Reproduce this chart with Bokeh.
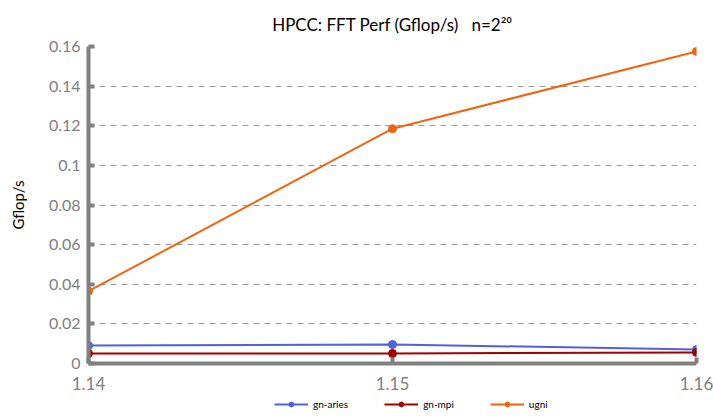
from bokeh.plotting import figure
from bokeh.layouts import column
from bokeh.models import FixedTicker, Legend, LegendItem, Range1d
from bokeh.embed import file_html
from bokeh.resources import INLINE

versions = [1.14, 1.15, 1.16]
x_tick_labels = ["1.14", "1.15", "1.16"]
gn_aries = [0.0091, 0.0096, 0.0071]
gn_mpi = [0.0051, 0.0051, 0.0056]
ugni = [0.0365, 0.1185, 0.1575]
y_ticks = [0, 0.02, 0.04, 0.06, 0.08, 0.1, 0.12, 0.14, 0.16]
y_tick_labels = ["0", "0.02", "0.04", "0.06", "0.08", "0.1", "0.12", "0.14", "0.16"]

series = [("gn-aries", gn_aries, "#5062d8"),
          ("gn-mpi", gn_mpi, "#a00000"),
          ("ugni", ugni, "#f26510")]

FONT = "Lato"
GRAY = "#808080"

p = figure(width=713, height=398, output_backend="svg", toolbar_location=None,
           x_range=Range1d(1.14, 1.16), y_range=Range1d(0, 0.16),
           min_border_left=88, min_border_right=17, min_border_top=46, min_border_bottom=35)

p.title.text = "HPCC: FFT Perf (Gflop/s)\u00a0\u00a0\u00a0n=2\u00b2\u2070"
p.title.align = "center"
p.title.text_font = FONT
p.title.text_font_size = "17px"
p.title.text_font_style = "normal"
p.title.text_color = "#000000"
p.title.standoff = 23

p.outline_line_color = None
p.xgrid.grid_line_color = None
p.ygrid.grid_line_color = "#9a9a9a"
p.ygrid.grid_line_dash = "6 5"
p.ygrid.grid_line_width = 1
p.ygrid.ticker = FixedTicker(ticks=y_ticks[1:])

for ax in (p.xaxis[0], p.yaxis[0]):
    ax.axis_line_color = GRAY
    ax.axis_line_width = 4
    ax.major_tick_line_color = GRAY
    ax.major_tick_line_width = 4
    ax.major_tick_in = 6
    ax.major_tick_out = 0
    ax.minor_tick_line_color = None
    ax.major_label_text_font = FONT
    ax.major_label_text_color = GRAY

p.xaxis.ticker = FixedTicker(ticks=versions)
p.xaxis.major_label_overrides = dict(zip(versions, x_tick_labels))
p.xaxis.major_label_standoff = 13
p.xaxis.major_label_text_font_size = "17px"
p.yaxis.ticker = FixedTicker(ticks=y_ticks)
p.yaxis.major_label_overrides = dict(zip(y_ticks, y_tick_labels))
p.yaxis.major_label_standoff = 8
p.yaxis.major_label_text_font_size = "16px"
p.yaxis.axis_label = "Gflop/s"
p.yaxis.axis_label_text_font = FONT
p.yaxis.axis_label_text_font_size = "15px"
p.yaxis.axis_label_text_font_style = "normal"
p.yaxis.axis_label_text_color = "#000000"
p.yaxis.axis_label_standoff = 19

for name, vals, color in series:
    p.line(versions, vals, line_color=color, line_width=2)
    p.scatter(versions, vals, size=8, fill_color=color, line_color=color)

# legend strip below the chart (same series, drawn out of view so only the legend shows)
lp = figure(width=713, height=19, output_backend="svg", toolbar_location=None,
            x_range=Range1d(0, 1), y_range=Range1d(0, 1),
            x_axis_type=None, y_axis_type=None, min_border=0)
lp.outline_line_color = None
lp.xgrid.grid_line_color = None
lp.ygrid.grid_line_color = None
items = []
for name, vals, color in series:
    l = lp.line(versions, vals, line_color=color, line_width=2)
    c = lp.scatter(versions, vals, size=8, fill_color=color, line_color=color)
    items.append(LegendItem(label=name, renderers=[l, c]))

legend = Legend(items=items, orientation="horizontal", location=(186, 7),
                label_text_font=FONT, label_text_font_size="10px", label_text_color="#000000",
                label_height=12, glyph_height=12,
                border_line_color=None, background_fill_alpha=0,
                glyph_width=34, spacing=36, padding=0, margin=0)
lp.add_layout(legend)

open("out.html", "w").write(file_html(column(p, lp, spacing=0), INLINE))
